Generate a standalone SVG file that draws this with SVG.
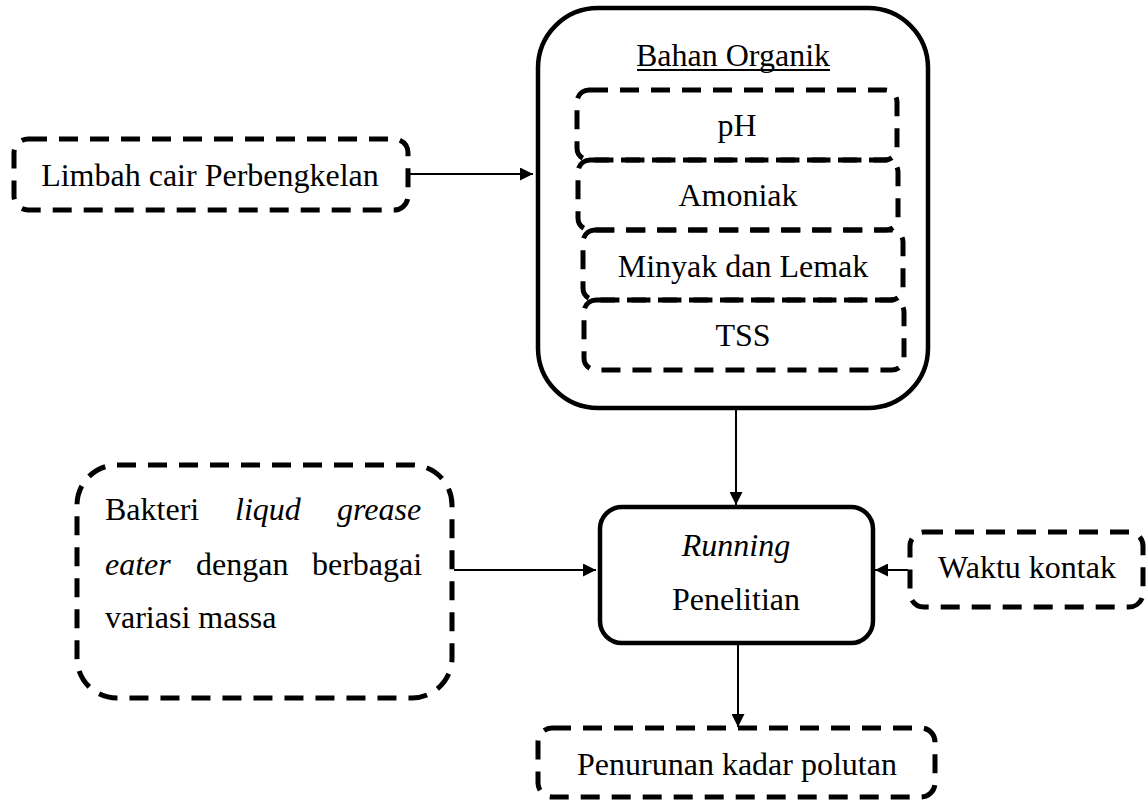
<svg xmlns="http://www.w3.org/2000/svg" width="1148" height="801" viewBox="0 0 1148 801">
<defs>
<style>
.t{font-family:"Liberation Serif","Times New Roman",serif;font-size:32px;fill:#000}
.i{font-style:italic}
.dash{fill:none;stroke:#000;stroke-width:5;stroke-dasharray:19 12}
.solid{fill:none;stroke:#000;stroke-width:4.5}
.ln{stroke:#000;stroke-width:2;fill:none}
</style>
<marker id="ah" viewBox="0 0 10 10" refX="10" refY="5" markerWidth="15" markerHeight="13" markerUnits="userSpaceOnUse" orient="auto">
<path d="M0,0 L10,5 L0,10 z" fill="#000"/>
</marker>
</defs>
<rect width="1148" height="801" fill="#fff"/>
<g id="limbah">
<rect class="dash" x="14" y="139" width="394" height="71" rx="14"/>
<text class="t" x="210" y="186" text-anchor="middle">Limbah cair Perbengkelan</text>
</g>
<g id="bahan-organik">
<rect class="solid" x="538" y="8" width="390" height="400" rx="60"/>
<text class="t" x="733" y="66" text-anchor="middle">Bahan Organik</text>
<line x1="637" y1="70" x2="830" y2="70" stroke="#000" stroke-width="2"/>
</g>
<g id="ph">
<rect class="dash" x="577" y="90" width="320" height="70" rx="12"/>
<text class="t" x="737" y="136" text-anchor="middle">pH</text>
</g>
<g id="amoniak">
<rect class="dash" x="578" y="160" width="320" height="70" rx="12"/>
<text class="t" x="738" y="206" text-anchor="middle">Amoniak</text>
</g>
<g id="minyak">
<rect class="dash" x="583" y="230" width="320" height="70" rx="12"/>
<text class="t" x="743" y="277" text-anchor="middle">Minyak dan Lemak</text>
</g>
<g id="tss">
<rect class="dash" x="584" y="300" width="320" height="70" rx="12"/>
<text class="t" x="743" y="346" text-anchor="middle">TSS</text>
</g>
<g id="bakteri">
<rect class="dash" x="77" y="465" width="375" height="233" rx="40"/>
<text class="t" y="520"><tspan x="105">Bakteri</tspan><tspan class="i" x="235">liqud</tspan><tspan class="i" x="337">grease</tspan></text>
<text class="t" y="575"><tspan class="i" x="105">eater</tspan><tspan x="196">dengan</tspan><tspan x="312">berbagai</tspan></text>
<text class="t" x="105" y="628">variasi massa</text>
</g>
<g id="running">
<rect class="solid" x="600" y="507" width="273" height="136" rx="22"/>
<text class="t i" x="736" y="556" text-anchor="middle">Running</text>
<text class="t" x="736" y="610" text-anchor="middle">Penelitian</text>
</g>
<g id="waktu">
<rect class="dash" x="910" y="532" width="233" height="75" rx="14"/>
<text class="t" x="1027" y="578" text-anchor="middle">Waktu kontak</text>
</g>
<g id="penurunan">
<rect class="dash" x="538" y="728" width="397" height="69" rx="14"/>
<text class="t" x="737" y="775" text-anchor="middle">Penurunan kadar polutan</text>
</g>
<g id="connectors">
<line class="ln" x1="410" y1="174" x2="533" y2="174" marker-end="url(#ah)"/>
<line class="ln" x1="736" y1="410" x2="736" y2="505" marker-end="url(#ah)"/>
<line class="ln" x1="454" y1="570" x2="596" y2="570" marker-end="url(#ah)"/>
<line class="ln" x1="908" y1="570" x2="875" y2="570" marker-end="url(#ah)"/>
<line class="ln" x1="738" y1="645" x2="738" y2="727" marker-end="url(#ah)"/>
</g>
</svg>
